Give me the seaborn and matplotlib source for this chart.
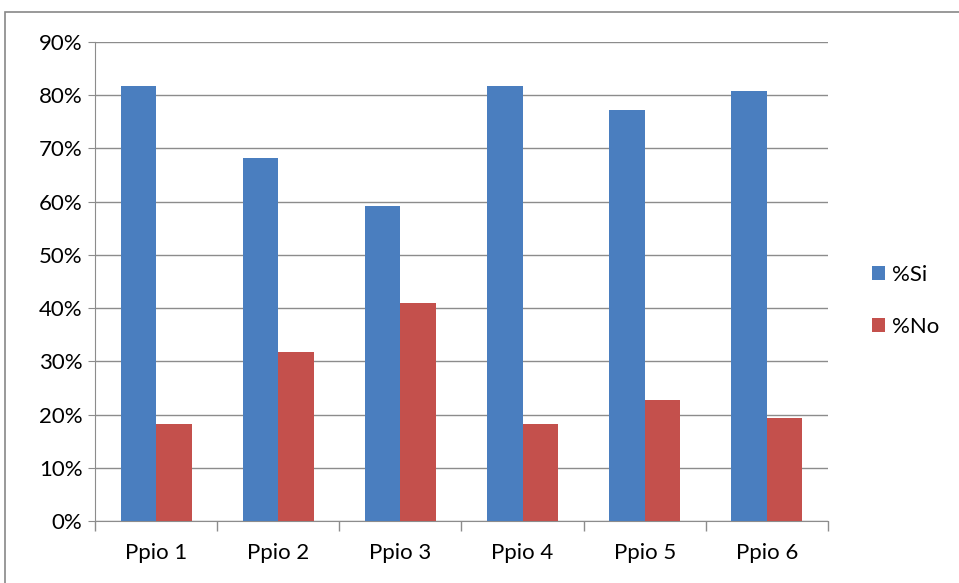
import matplotlib
matplotlib.use("Agg")
import matplotlib.pyplot as plt
import matplotlib.patches as mpatches
from matplotlib.ticker import FixedLocator, FuncFormatter
import seaborn as sns
import pandas as pd

categories = ["Ppio 1", "Ppio 2", "Ppio 3", "Ppio 4", "Ppio 5", "Ppio 6"]
si_values = [81.8, 68.2, 59.1, 81.8, 77.3, 80.7]
no_values = [18.2, 31.8, 40.9, 18.2, 22.7, 19.3]
series_names = ["%Si", "%No"]
colors = ["#4A7EBF", "#C4504C"]
y_ticks = [0, 10, 20, 30, 40, 50, 60, 70, 80, 90]

df = pd.DataFrame({
    "cat": categories * 2,
    "val": si_values + no_values,
    "serie": [series_names[0]] * len(categories) + [series_names[1]] * len(categories),
})

sns.set_style("white")
plt.rcParams["font.family"] = ["Lato", "DejaVu Sans"]

fig = plt.figure(figsize=(9.59, 5.83), dpi=100)
ax = fig.add_axes([95 / 959, 1 - 521 / 583, (828 - 95) / 959, (521 - 42) / 583])

sns.barplot(data=df, x="cat", y="val", hue="serie", palette=colors,
            width=0.58, saturation=1, ax=ax, legend=False, zorder=3,
            linewidth=0, edgecolor="none")

ax.set_ylim(0, 90)
ax.set_xlim(-0.5, len(categories) - 0.5)
ax.yaxis.set_major_locator(FixedLocator(y_ticks))
ax.yaxis.set_major_formatter(FuncFormatter(lambda v, p: f"{int(v)}%"))
ax.grid(axis="y", color="#8c8c8c", linewidth=1.0, zorder=0)
ax.set_axisbelow(True)
ax.set_xlabel("")
ax.set_ylabel("")

for s in ["top", "right"]:
    ax.spines[s].set_visible(False)
ax.spines["left"].set_color("#8c8c8c")
ax.spines["bottom"].set_color("#8c8c8c")

ax.tick_params(axis="y", left=True, length=5, color="#8c8c8c", direction="out",
               labelsize=16, labelcolor="black", pad=4)
ax.tick_params(axis="x", bottom=True, length=0, labelsize=16, labelcolor="black", pad=16)
ax.xaxis.set_minor_locator(FixedLocator([i - 0.5 for i in range(len(categories) + 1)]))
ax.tick_params(axis="x", which="minor", bottom=True, length=7, width=1,
               color="#8c8c8c", direction="out")

handles = [mpatches.Patch(facecolor=c, edgecolor="none") for c in colors]
fig.legend(handles, series_names, loc="center left",
           bbox_to_anchor=(852 / 959, 1 - 301 / 583), frameon=False,
           fontsize=16, labelcolor="black", handlelength=0.6, handleheight=0.6,
           handletextpad=0.3, labelspacing=1.45)

fig.patches.append(mpatches.Rectangle((5 / 959, -0.01), 1.0, 1 - 12 / 583 + 0.01,
                                      transform=fig.transFigure, fill=False,
                                      edgecolor="#888888", linewidth=1.2))

fig.savefig("out.png", dpi=100)
